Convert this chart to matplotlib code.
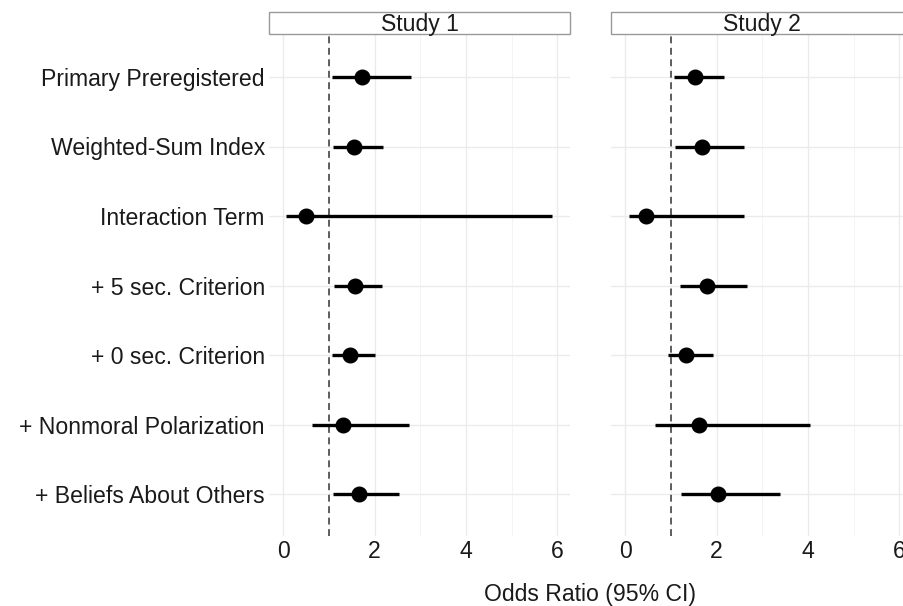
import matplotlib.pyplot as plt
from matplotlib.patches import Rectangle

plt.rcParams['font.family'] = ['Liberation Sans', 'DejaVu Sans']

models = ['Primary Preregistered', 'Weighted-Sum Index', 'Interaction Term',
          '+ 5 sec. Criterion', '+ 0 sec. Criterion', '+ Nonmoral Polarization',
          '+ Beliefs About Others']
studies = ['Study 1', 'Study 2']

s1_or = [1.73, 1.56, 0.50, 1.57, 1.46, 1.31, 1.67]
s1_lo = [1.07, 1.10, 0.06, 1.12, 1.07, 0.63, 1.10]
s1_hi = [2.80, 2.19, 5.89, 2.17, 2.00, 2.76, 2.54]

s2_or = [1.54, 1.68, 0.45, 1.79, 1.34, 1.61, 2.04]
s2_lo = [1.07, 1.10, 0.08, 1.21, 0.93, 0.66, 1.23]
s2_hi = [2.17, 2.60, 2.61, 2.66, 1.92, 4.05, 3.39]

W, H = 904, 606
fig = plt.figure(figsize=(W / 100, H / 100), dpi=100)

panels = [(269, s1_or, s1_lo, s1_hi), (611, s2_or, s2_lo, s2_hi)]
top, bot = 35.3, 535.7
pw = 301
ypos = list(range(len(models)))
fs = 16.6

for k, (x0, est, lo, hi) in enumerate(panels):
    ax = fig.add_axes([x0 / W, 1 - bot / H, pw / W, (bot - top) / H])
    ax.set_xlim(-0.31, 6.28)
    ax.set_ylim(len(models) - 0.4, -0.6)
    for v in [0, 2, 4, 6]:
        ax.axvline(v, color='#ebebeb', lw=1.0, zorder=0)
    for v in [1, 3, 5]:
        ax.axvline(v, color='#f2f2f2', lw=0.6, zorder=0)
    for y in ypos:
        ax.axhline(y, color='#ebebeb', lw=1.0, zorder=0)
    ax.axvline(1, color='#333333', lw=1.1, ls=(0, (4.5, 3)), zorder=1)
    ax.hlines(ypos, lo, hi, color='black', lw=2.4, zorder=2)
    ax.plot(est, ypos, 'o', color='black', ms=10.5, zorder=3)
    for s in ax.spines.values():
        s.set_visible(False)
    ax.set_xticks([0, 2, 4, 6])
    ax.tick_params(length=0, labelsize=fs, labelcolor='#1a1a1a', pad=3)
    ax.set_yticks(ypos)
    if k == 0:
        ax.set_yticklabels(models)
    else:
        ax.set_yticklabels([])
    # facet strip
    sax = fig.add_axes([x0 / W, 1 - 34 / H, pw / W, 22 / H])
    sax.set_xlim(0, 1)
    sax.set_ylim(0, 1)
    sax.axis('off')
    sax.add_patch(Rectangle((0, 0), 1, 1, facecolor='white', edgecolor='#999999',
                            lw=1.0, clip_on=False))
    sax.text(0.5, 0.42, studies[k], ha='center', va='center', fontsize=fs,
             color='#1a1a1a')

fig.text(590 / W, 1 - 594 / H, 'Odds Ratio (95% CI)', ha='center', va='center',
         fontsize=fs, color='#1a1a1a')

fig.savefig('out.png', dpi=100)
